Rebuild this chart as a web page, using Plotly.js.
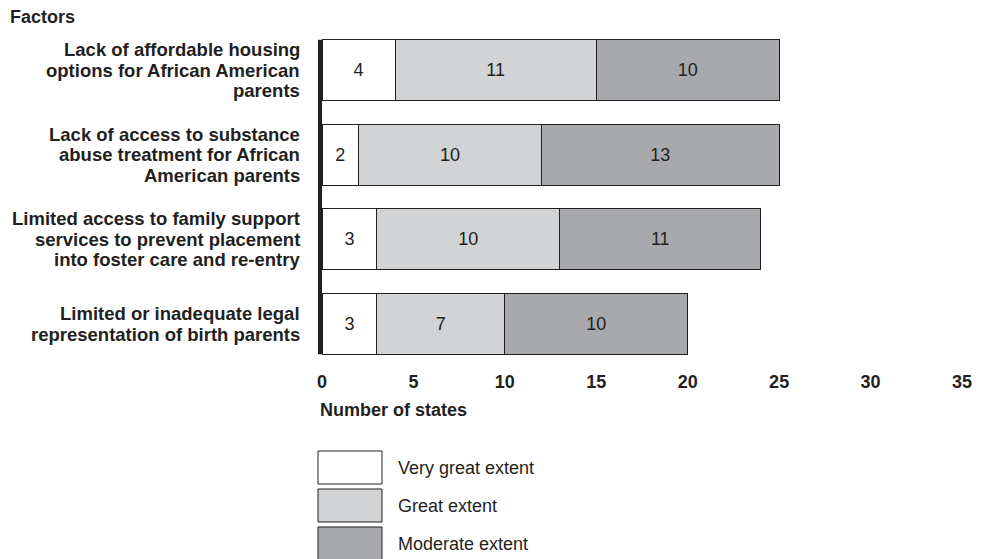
<!DOCTYPE html>
<html>
<head>
<meta charset="utf-8">
<script src="https://cdn.plot.ly/plotly-3.0.1.min.js"></script>
<style>html,body{margin:0;padding:0;background:#fff;}#chart{width:984px;height:559px;}</style>
</head>
<body>
<div id="chart"></div>
<script>
const factors = [
  "Lack of affordable housing<br>options for African American<br>parents",
  "Lack of access to substance<br>abuse treatment for African<br>American parents",
  "Limited access to family support<br>services to prevent placement<br>into foster care and re-entry",
  "Limited or inadequate legal<br>representation of birth parents"
];
const seriesNames = ["Very great extent", "Great extent", "Moderate extent"];
const veryGreat = [4, 2, 3, 3];
const great = [11, 10, 10, 7];
const moderate = [10, 13, 11, 10];
const xTicks = [0, 5, 10, 15, 20, 25, 30, 35];

const colors = ["#ffffff", "#d1d3d4", "#a7a9ac"];
const ink = "#231f20";
const FONT = "Liberation Sans, Arial, Helvetica, sans-serif";

const W = 984, H = 559;
const M = {l: 322, r: 22, t: 28, b: 193};
const PW = W - M.l - M.r, PH = H - M.t - M.b;
const px = x => (x - M.l) / PW;
const py = y => (H - M.b - y) / PH;

const vals = [veryGreat, great, moderate];
const traces = vals.map((v, i) => ({
  type: "bar",
  orientation: "h",
  name: seriesNames[i],
  y: factors,
  x: v,
  text: v.map(String),
  textposition: "inside",
  insidetextanchor: "middle",
  constraintext: "none",
  textfont: {family: FONT, size: 18, color: ink},
  marker: {color: colors[i], line: {color: ink, width: 1}},
  hoverinfo: "skip"
}));

const bargap = 0.28;
const n = factors.length;
const shapes = [{
  type: "line", xref: "paper", yref: "paper",
  x0: px(320), x1: px(320),
  y0: 1 - (bargap / 2) / n, y1: (bargap / 2) / n,
  line: {color: ink, width: 4}
}];
const annotations = [
  {text: "<b>Factors</b>", xref: "paper", yref: "paper", x: px(8), y: py(17),
   xanchor: "left", yanchor: "middle", showarrow: false,
   font: {family: FONT, size: 18, color: ink}},
  {text: "<b>Number of states</b>", xref: "paper", yref: "paper", x: px(318), y: py(410),
   xanchor: "left", yanchor: "middle", showarrow: false,
   font: {family: FONT, size: 18, color: ink}}
];
// category labels, one annotation per line for tight leading
const LEAD = 20.5;
factors.forEach(f => {
  const lines = f.split("<br>");
  lines.forEach((ln, k) => {
    annotations.push({
      text: "<b>" + ln + "</b>", xref: "paper", yref: "y", x: px(302), y: f,
      yshift: ((lines.length - 1) / 2 - k) * LEAD,
      xanchor: "right", yanchor: "middle", showarrow: false,
      font: {family: FONT, size: 18.5, color: ink}
    });
  });
});
const boxTop = [451, 489, 527];
const boxH = 33;
seriesNames.forEach((name, i) => {
  shapes.push({
    type: "rect", xref: "paper", yref: "paper",
    x0: px(318), x1: px(382), y0: py(boxTop[i] + boxH + (i === 2 ? 3 : 0)), y1: py(boxTop[i]),
    fillcolor: colors[i], line: {color: ink, width: 1}
  });
  annotations.push({
    text: name, xref: "paper", yref: "paper", x: px(396), y: py(boxTop[i] + boxH / 2),
    xanchor: "left", yanchor: "middle", showarrow: false,
    font: {family: FONT, size: 18, color: ink}
  });
});

const layout = {
  width: W, height: H,
  margin: M,
  paper_bgcolor: "#ffffff",
  plot_bgcolor: "#ffffff",
  barmode: "stack",
  bargap: bargap,
  showlegend: false,
  xaxis: {
    range: [0, 35],
    tickvals: xTicks,
    ticktext: xTicks.map(t => "<b>" + t + "</b>"),
    showgrid: false, zeroline: false, showline: false, ticks: "",
    ticklabelstandoff: 3,
    tickfont: {family: FONT, size: 18, color: ink}
  },
  yaxis: {
    autorange: "reversed",
    showgrid: false, zeroline: false, showline: false, ticks: "",
    showticklabels: false
  },
  shapes: shapes,
  annotations: annotations
};

Plotly.newPlot("chart", traces, layout, {displayModeBar: false, staticPlot: true});
</script>
</body>
</html>
